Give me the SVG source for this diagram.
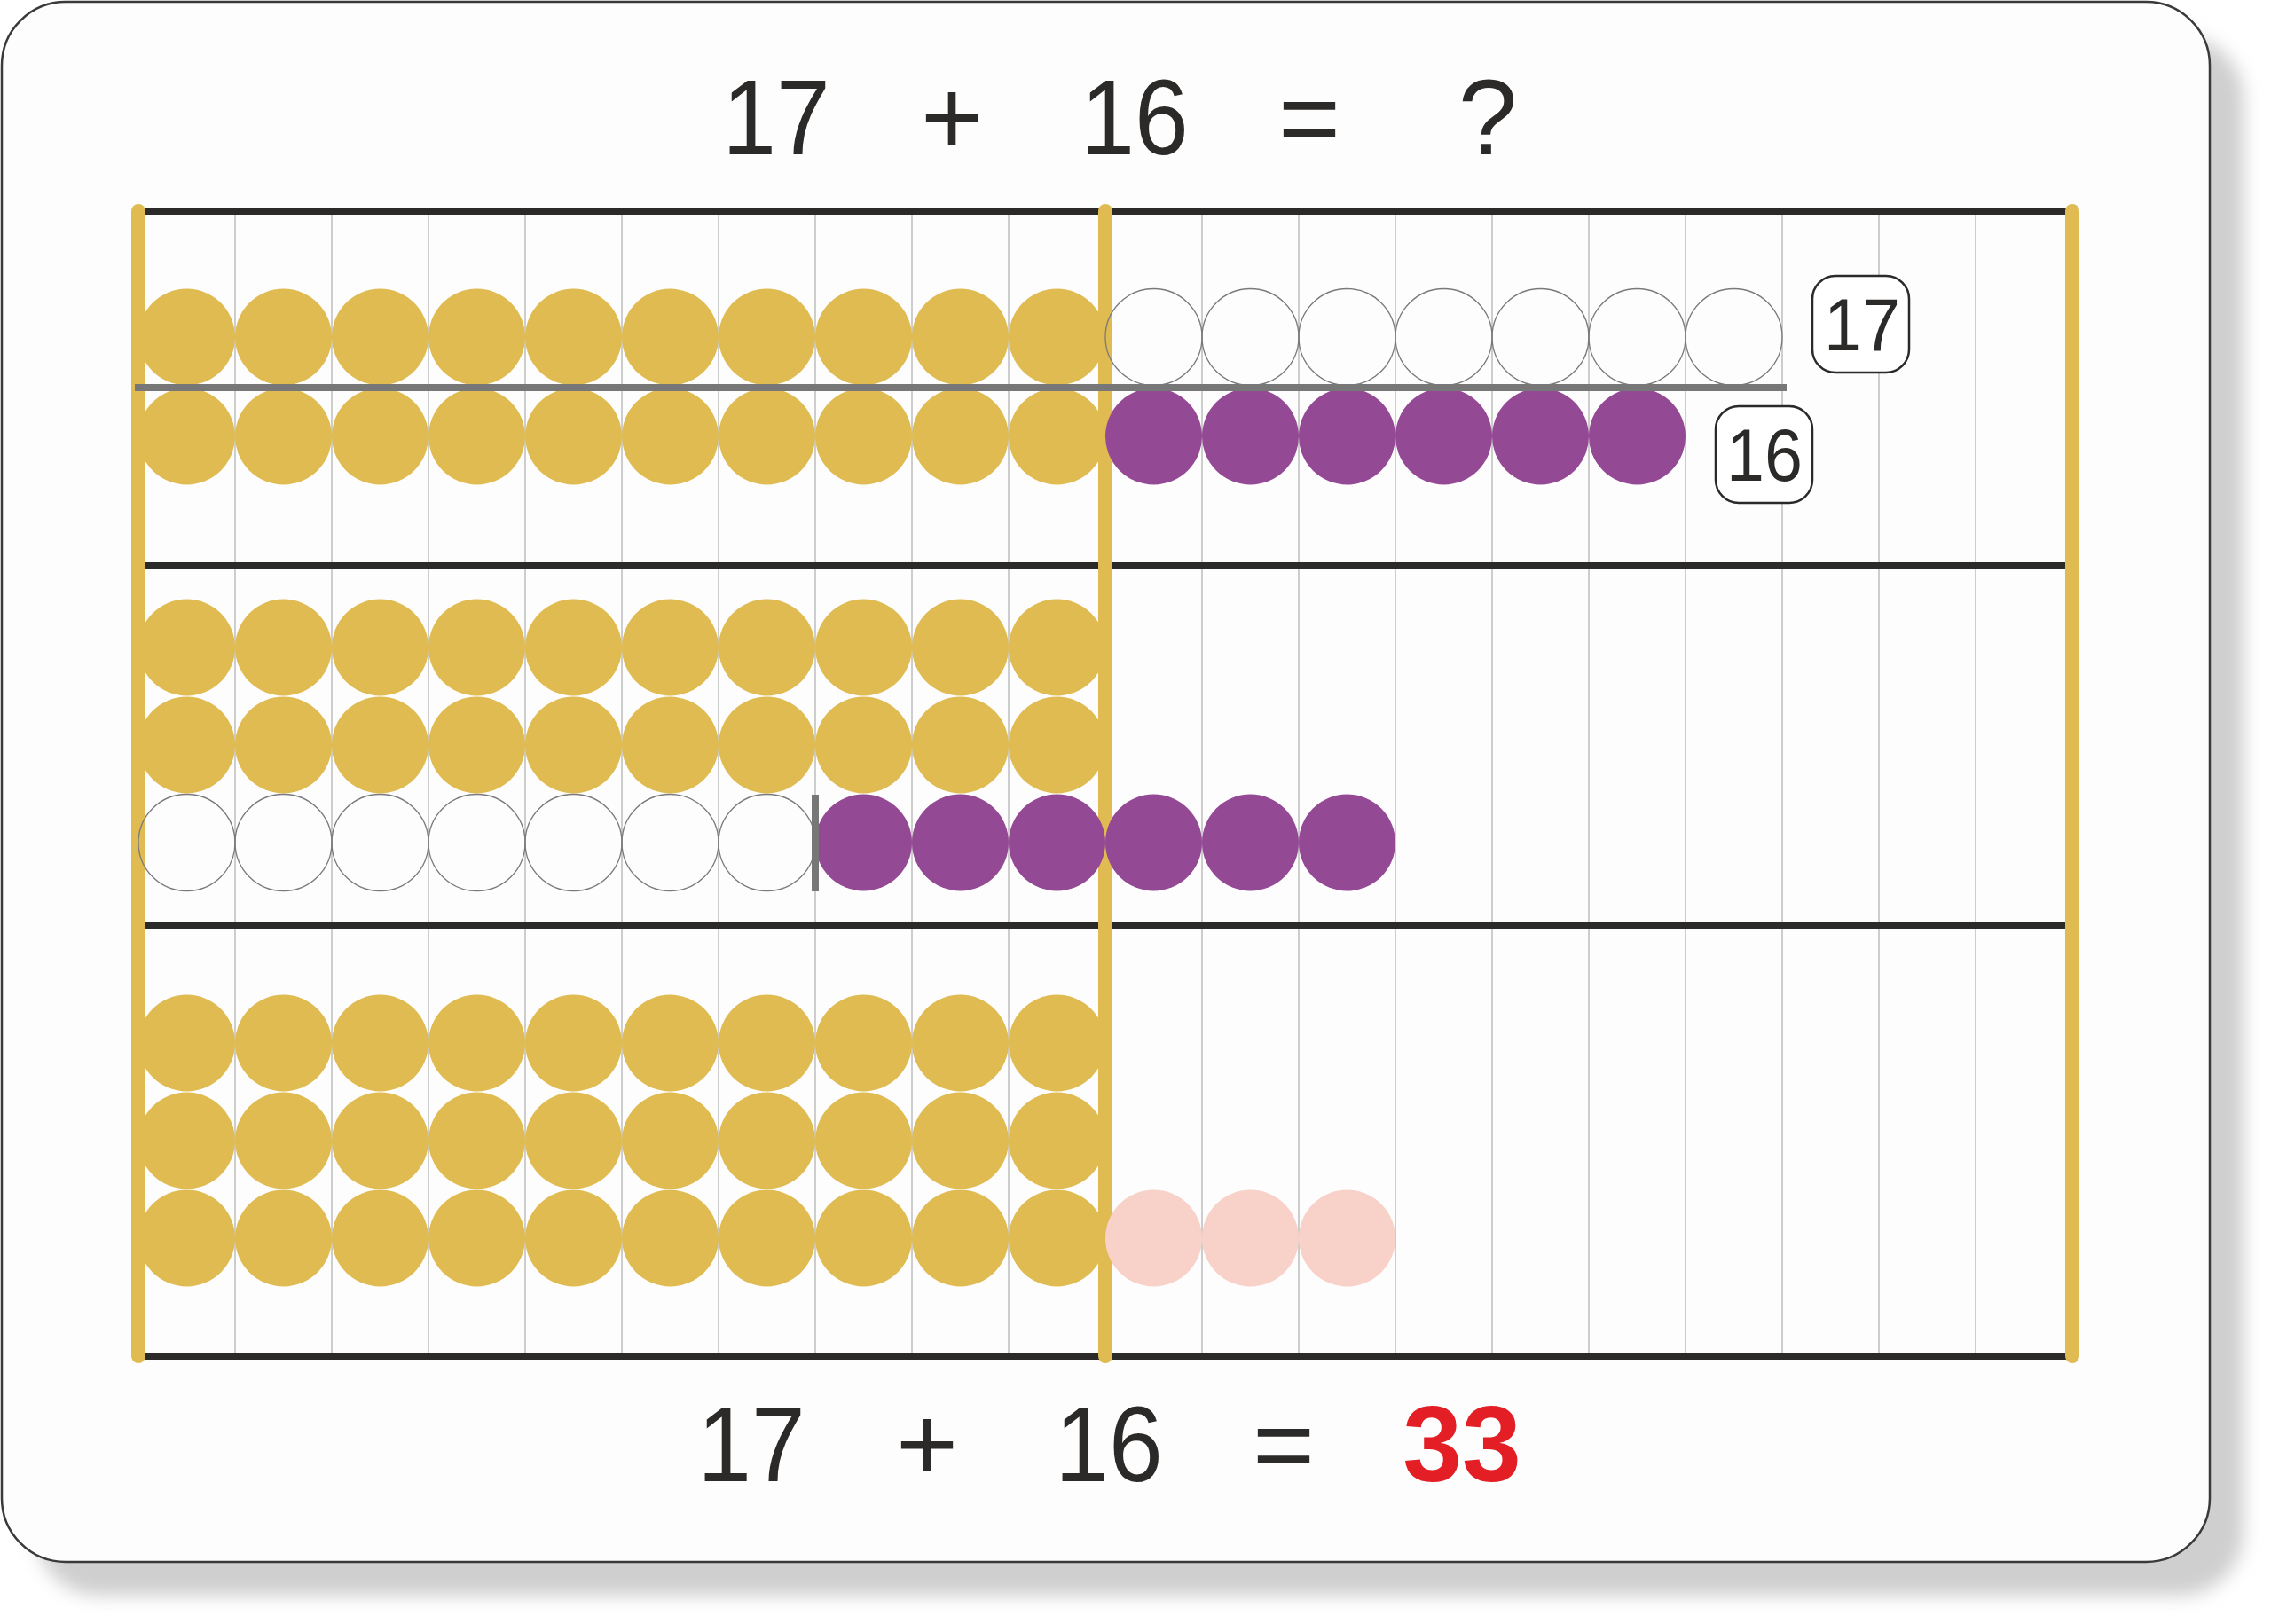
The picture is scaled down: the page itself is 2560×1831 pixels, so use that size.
<svg xmlns="http://www.w3.org/2000/svg" width="2560" height="1831" viewBox="0 0 2560 1831">
<defs>
<filter id="shadow" x="-10%" y="-10%" width="120%" height="120%">
<feGaussianBlur stdDeviation="10"/>
</filter>
<style>
.txt{font-family:"Liberation Sans",Arial,sans-serif;fill:#2b2a29;text-anchor:middle}
.eq{font-size:120px}
.lbl{font-size:84px}
.rail{stroke:#2b2a29;stroke-width:8;fill:none}
.col{stroke:#bdbdbd;stroke-width:1.5;fill:none}
.bar{stroke:#dfbb52;stroke-width:16;stroke-linecap:round;fill:none}
.wire{stroke:#777777;stroke-width:8;fill:none}
.y{fill:#dfbb52}
.p{fill:#944994}
.k{fill:#f8d1c8}
.w{fill:none;stroke:#7a7a7a;stroke-width:1.3}
.box{fill:#ffffff;stroke:#2b2a29;stroke-width:2.5}
</style>
</defs>
<rect width="2560" height="1831" fill="#ffffff"/>
<g id="card">
<rect x="40" y="40" width="2489" height="1759" rx="72" fill="#cfcfcf" filter="url(#shadow)"/>
<rect x="2" y="2" width="2489" height="1759" rx="72" fill="#fdfdfd" stroke="#3a3a3a" stroke-width="2.5"/>
</g>
<g id="question">
<text class="txt eq" transform="translate(875,174) scale(0.91,1)">17</text>
<text class="txt eq" x="1073" y="174">+</text>
<text class="txt eq" transform="translate(1279,174) scale(0.91,1)">16</text>
<text class="txt eq" x="1476" y="174">=</text>
<text class="txt eq" x="1677" y="174">?</text>
</g>
<g id="grid">
<g id="columns">
<line class="col" x1="265" y1="238" x2="265" y2="1529"/>
<line class="col" x1="374" y1="238" x2="374" y2="1529"/>
<line class="col" x1="483" y1="238" x2="483" y2="1529"/>
<line class="col" x1="592" y1="238" x2="592" y2="1529"/>
<line class="col" x1="701" y1="238" x2="701" y2="1529"/>
<line class="col" x1="810" y1="238" x2="810" y2="1529"/>
<line class="col" x1="919" y1="238" x2="919" y2="1529"/>
<line class="col" x1="1028" y1="238" x2="1028" y2="1529"/>
<line class="col" x1="1137" y1="238" x2="1137" y2="1529"/>
<line class="col" x1="1355" y1="238" x2="1355" y2="1529"/>
<line class="col" x1="1464" y1="238" x2="1464" y2="1529"/>
<line class="col" x1="1573" y1="238" x2="1573" y2="1529"/>
<line class="col" x1="1682" y1="238" x2="1682" y2="1529"/>
<line class="col" x1="1791" y1="238" x2="1791" y2="1529"/>
<line class="col" x1="1900" y1="238" x2="1900" y2="1529"/>
<line class="col" x1="2009" y1="238" x2="2009" y2="1529"/>
<line class="col" x1="2118" y1="238" x2="2118" y2="1529"/>
<line class="col" x1="2227" y1="238" x2="2227" y2="1529"/>
</g>
<g id="rails">
<line class="rail" x1="156" y1="238" x2="2336" y2="238"/>
<line class="rail" x1="156" y1="638" x2="2336" y2="638"/>
<line class="rail" x1="156" y1="1043" x2="2336" y2="1043"/>
<line class="rail" x1="156" y1="1529" x2="2336" y2="1529"/>
</g>
<g id="bars">
<line class="bar" x1="156" y1="238" x2="156" y2="1529"/>
<line class="bar" x1="1246" y1="238" x2="1246" y2="1529"/>
<line class="bar" x1="2336" y1="238" x2="2336" y2="1529"/>
</g>
</g>
<g id="section-1">
<g id="s1-row1">
<circle class="y" cx="210.5" cy="380" r="54.5"/><circle class="y" cx="319.5" cy="380" r="54.5"/><circle class="y" cx="428.5" cy="380" r="54.5"/><circle class="y" cx="537.5" cy="380" r="54.5"/><circle class="y" cx="646.5" cy="380" r="54.5"/><circle class="y" cx="755.5" cy="380" r="54.5"/><circle class="y" cx="864.5" cy="380" r="54.5"/><circle class="y" cx="973.5" cy="380" r="54.5"/><circle class="y" cx="1082.5" cy="380" r="54.5"/><circle class="y" cx="1191.5" cy="380" r="54.5"/>
<circle class="w" cx="1300.5" cy="380" r="54.5"/><circle class="w" cx="1409.5" cy="380" r="54.5"/><circle class="w" cx="1518.5" cy="380" r="54.5"/><circle class="w" cx="1627.5" cy="380" r="54.5"/><circle class="w" cx="1736.5" cy="380" r="54.5"/><circle class="w" cx="1845.5" cy="380" r="54.5"/><circle class="w" cx="1954.5" cy="380" r="54.5"/>
</g>
<g id="s1-row2">
<circle class="y" cx="210.5" cy="492" r="54.5"/><circle class="y" cx="319.5" cy="492" r="54.5"/><circle class="y" cx="428.5" cy="492" r="54.5"/><circle class="y" cx="537.5" cy="492" r="54.5"/><circle class="y" cx="646.5" cy="492" r="54.5"/><circle class="y" cx="755.5" cy="492" r="54.5"/><circle class="y" cx="864.5" cy="492" r="54.5"/><circle class="y" cx="973.5" cy="492" r="54.5"/><circle class="y" cx="1082.5" cy="492" r="54.5"/><circle class="y" cx="1191.5" cy="492" r="54.5"/>
<circle class="p" cx="1300.5" cy="492" r="54.5"/><circle class="p" cx="1409.5" cy="492" r="54.5"/><circle class="p" cx="1518.5" cy="492" r="54.5"/><circle class="p" cx="1627.5" cy="492" r="54.5"/><circle class="p" cx="1736.5" cy="492" r="54.5"/><circle class="p" cx="1845.5" cy="492" r="54.5"/>
</g>
</g>
<g id="section-2">
<g id="s2-row1">
<circle class="y" cx="210.5" cy="730" r="54.5"/><circle class="y" cx="319.5" cy="730" r="54.5"/><circle class="y" cx="428.5" cy="730" r="54.5"/><circle class="y" cx="537.5" cy="730" r="54.5"/><circle class="y" cx="646.5" cy="730" r="54.5"/><circle class="y" cx="755.5" cy="730" r="54.5"/><circle class="y" cx="864.5" cy="730" r="54.5"/><circle class="y" cx="973.5" cy="730" r="54.5"/><circle class="y" cx="1082.5" cy="730" r="54.5"/><circle class="y" cx="1191.5" cy="730" r="54.5"/>
</g>
<g id="s2-row2">
<circle class="y" cx="210.5" cy="840" r="54.5"/><circle class="y" cx="319.5" cy="840" r="54.5"/><circle class="y" cx="428.5" cy="840" r="54.5"/><circle class="y" cx="537.5" cy="840" r="54.5"/><circle class="y" cx="646.5" cy="840" r="54.5"/><circle class="y" cx="755.5" cy="840" r="54.5"/><circle class="y" cx="864.5" cy="840" r="54.5"/><circle class="y" cx="973.5" cy="840" r="54.5"/><circle class="y" cx="1082.5" cy="840" r="54.5"/><circle class="y" cx="1191.5" cy="840" r="54.5"/>
</g>
<g id="s2-row3">
<circle class="w" cx="210.5" cy="950" r="54.5"/><circle class="w" cx="319.5" cy="950" r="54.5"/><circle class="w" cx="428.5" cy="950" r="54.5"/><circle class="w" cx="537.5" cy="950" r="54.5"/><circle class="w" cx="646.5" cy="950" r="54.5"/><circle class="w" cx="755.5" cy="950" r="54.5"/><circle class="w" cx="864.5" cy="950" r="54.5"/>
<circle class="p" cx="973.5" cy="950" r="54.5"/><circle class="p" cx="1082.5" cy="950" r="54.5"/><circle class="p" cx="1191.5" cy="950" r="54.5"/><circle class="p" cx="1300.5" cy="950" r="54.5"/><circle class="p" cx="1409.5" cy="950" r="54.5"/><circle class="p" cx="1518.5" cy="950" r="54.5"/>
</g>
</g>
<g id="section-3">
<g id="s3-row1">
<circle class="y" cx="210.5" cy="1176" r="54.5"/><circle class="y" cx="319.5" cy="1176" r="54.5"/><circle class="y" cx="428.5" cy="1176" r="54.5"/><circle class="y" cx="537.5" cy="1176" r="54.5"/><circle class="y" cx="646.5" cy="1176" r="54.5"/><circle class="y" cx="755.5" cy="1176" r="54.5"/><circle class="y" cx="864.5" cy="1176" r="54.5"/><circle class="y" cx="973.5" cy="1176" r="54.5"/><circle class="y" cx="1082.5" cy="1176" r="54.5"/><circle class="y" cx="1191.5" cy="1176" r="54.5"/>
</g>
<g id="s3-row2">
<circle class="y" cx="210.5" cy="1286" r="54.5"/><circle class="y" cx="319.5" cy="1286" r="54.5"/><circle class="y" cx="428.5" cy="1286" r="54.5"/><circle class="y" cx="537.5" cy="1286" r="54.5"/><circle class="y" cx="646.5" cy="1286" r="54.5"/><circle class="y" cx="755.5" cy="1286" r="54.5"/><circle class="y" cx="864.5" cy="1286" r="54.5"/><circle class="y" cx="973.5" cy="1286" r="54.5"/><circle class="y" cx="1082.5" cy="1286" r="54.5"/><circle class="y" cx="1191.5" cy="1286" r="54.5"/>
</g>
<g id="s3-row3">
<circle class="y" cx="210.5" cy="1396" r="54.5"/><circle class="y" cx="319.5" cy="1396" r="54.5"/><circle class="y" cx="428.5" cy="1396" r="54.5"/><circle class="y" cx="537.5" cy="1396" r="54.5"/><circle class="y" cx="646.5" cy="1396" r="54.5"/><circle class="y" cx="755.5" cy="1396" r="54.5"/><circle class="y" cx="864.5" cy="1396" r="54.5"/><circle class="y" cx="973.5" cy="1396" r="54.5"/><circle class="y" cx="1082.5" cy="1396" r="54.5"/><circle class="y" cx="1191.5" cy="1396" r="54.5"/>
<circle class="k" cx="1300.5" cy="1396" r="54.5"/><circle class="k" cx="1409.5" cy="1396" r="54.5"/><circle class="k" cx="1518.5" cy="1396" r="54.5"/>
</g>
</g>
<g id="connectors">
<line class="wire" x1="152" y1="437" x2="2014" y2="437"/>
<line class="wire" x1="919" y1="896" x2="919" y2="1005"/>
</g>
<g id="label-17">
<rect class="box" x="2043" y="311" width="109" height="109" rx="26"/>
<text class="txt lbl" transform="translate(2099,395) scale(0.92,1)">17</text>
</g>
<g id="label-16">
<rect class="box" x="1934" y="458" width="109" height="109" rx="26"/>
<text class="txt lbl" transform="translate(1989,542) scale(0.92,1)">16</text>
</g>
<g id="answer">
<text class="txt eq" transform="translate(847,1670) scale(0.91,1)">17</text>
<text class="txt eq" x="1045" y="1670">+</text>
<text class="txt eq" transform="translate(1250,1670) scale(0.91,1)">16</text>
<text class="txt eq" x="1447" y="1670">=</text>
<text class="txt eq" x="1648" y="1670" style="fill:#e31e24;font-weight:bold">33</text>
</g>
</svg>
